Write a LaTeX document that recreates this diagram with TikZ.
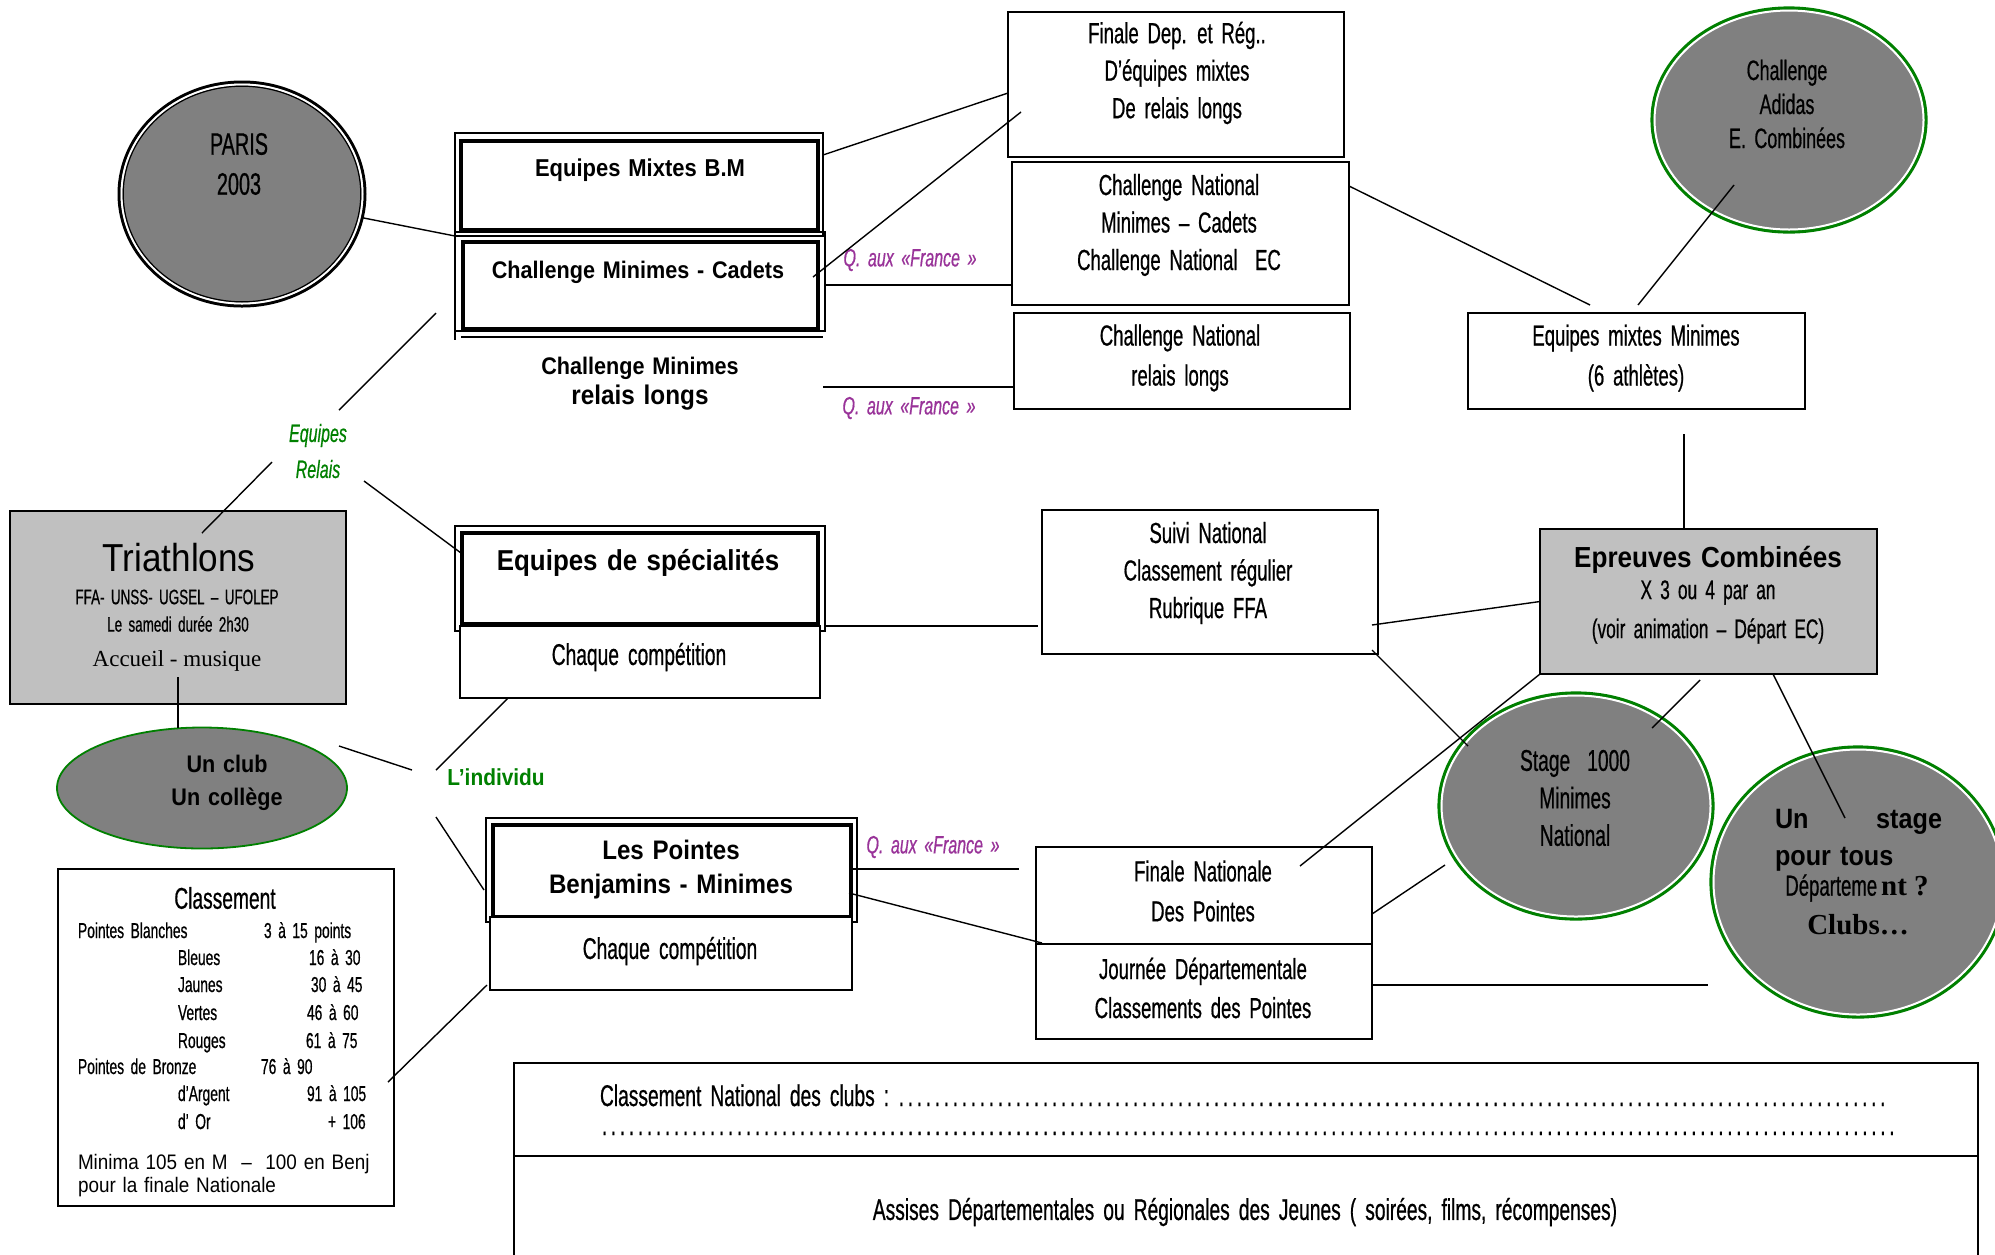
\documentclass[tikz,border=0pt]{standalone}
\usepackage{fontspec}
\setmainfont{Liberation Sans}
\newfontfamily\nar[FakeStretch=0.64,WordSpace=1.7,FakeBold=0.6]{Liberation Sans}
\newfontfamily\bsf[FakeStretch=0.9]{Liberation Sans}
\newfontfamily\midf[FakeStretch=0.9,WordSpace=1.3]{Liberation Sans}
\newfontfamily\serf{Liberation Serif}
\usetikzlibrary{shapes.geometric,fit}
\newcommand{\fsz}[2]{\fontsize{#1}{#2}\selectfont}
\definecolor{dkgrey}{RGB}{128,128,128}
\definecolor{ltgrey}{RGB}{192,192,192}
\definecolor{rgreen}{RGB}{0,128,0}
\definecolor{purp}{RGB}{153,51,153}
\tikzset{
  every node/.style={inner sep=0pt, outer sep=0pt},
  pbox/.style={draw=black, line width=0.9pt, fill=white},
  gbox/.style={draw=black, line width=0.9pt, fill=ltgrey},
  fouter/.style={draw=black, line width=1pt},
  finner/.style={draw=black, line width=1.75pt},
  conn/.style={draw=black, line width=0.7pt},
  gell/.style={ellipse, fill=dkgrey, draw=rgreen, line width=1.6pt},
  nt/.style={align=center, font=\nar\fsz{14.5}{18.75}},
  qlab/.style={font=\nar\itshape\fsz{12.5}{14}, text=purp},
  bt/.style={font=\bsf\bfseries\fsz{12}{14}},
}
\begin{document}
\begin{tikzpicture}[x=0.5pt,y=-0.5pt]
\path[use as bounding box, fill=white] (0,0) rectangle (1995,1254);

% ---------- PARIS ----------
\node[ellipse, fill=dkgrey, draw=black, line width=1.5pt, minimum width=123pt, minimum height=112pt] (paris) at (242,194) {};
\draw[white, line width=1pt] (paris.center) ellipse [x radius=60.25pt, y radius=54.75pt];
\draw[black, line width=0.6pt] (paris.center) ellipse [x radius=59.4pt, y radius=53.9pt];
\node[align=center, font=\nar\fsz{15.5}{20}] (paris-t) at (239,164) {PARIS\\2003};

% ---------- stack ----------
\node[fouter, fit={(455,133) (823,236)}] (f1) {};
\node[finner, fit={(461,141) (818,230)}] (bm) {};
\node[fouter, fit={(455,232) (825,331)}] (f2) {};
\node[finner, fit={(463,242) (818,329)}] (cmc) {};
\draw[line width=1pt] (f2.south west) -- ++(0,9);
\coordinate (sb1) at (461,337);
\coordinate (sb2) at (823,337);
\draw[line width=1pt] (sb1) -- (sb2);
\node[font=\bsf\bfseries\fsz{12.2}{14}] (bm-t) at (640,170) {Equipes Mixtes B.M};
\node[bt] (cmc-t) at (638,272) {Challenge Minimes - Cadets};
\node[bt] (cmrl1) at (640,368) {Challenge Minimes};
\node[font=\bsf\bfseries\fsz{13.5}{16}] (cmrl2) at (640,398) {relais longs};

% ---------- top middle boxes ----------
\node[pbox, fit={(1008,12) (1344,157)}] (fdep) {};
\node[nt] (fdep-t) at (1177,73) {Finale Dep. et Rég..\\D’équipes mixtes\\De relais longs};
\node[pbox, fit={(1012,162) (1349,305)}] (cn) {};
\node[nt] (cn-t) at (1179,225) {Challenge National\\Minimes – Cadets\\Challenge National\ \ EC};
\node[pbox, fit={(1014,313) (1350,409)}] (cnr) {};
\node[nt, font=\nar\fsz{14.5}{20}] (cnr-t) at (1180,358) {Challenge National\\relais longs};

\node[qlab] (q1) at (910,260) {Q. aux «France »};
\node[qlab] (q2) at (909,408) {Q. aux «France »};

% ---------- right top ----------
\node[pbox, fit={(1468,313) (1805,409)}] (mm) {};
\node[nt, font=\nar\fsz{14.5}{20}] (mm-t) at (1636,358) {Equipes mixtes Minimes\\(6 athlètes)};
\node[gell, minimum width=137pt, minimum height=112pt] (adidas) at (1789,120) {};
\draw[white, line width=1pt] (adidas.center) ellipse [x radius=67.25pt, y radius=54.75pt];
\node[align=center, font=\nar\fsz{14}{17}] (adidas-t) at (1787,104) {Challenge\\Adidas\\E.\ Combinées};

% ---------- Epreuves combinees ----------
\node[gbox, fit={(1540,529) (1877,674)}] (ec) {};
\node[font=\bsf\bfseries\fsz{14.5}{16}] (ec-t1) at (1708,560) {Epreuves Combinées};
\node[align=center, font=\nar\fsz{13.5}{19.5}] (ec-t2) at (1708,612) {X 3 ou 4 par an\\(voir animation – Départ EC)};

% ---------- Suivi ----------
\node[pbox, fit={(1042,510) (1378,654)}] (sn) {};
\node[nt] (sn-t) at (1208,573) {Suivi National\\Classement régulier\\Rubrique FFA};

% ---------- Finale nationale / Journee ----------
\node[pbox, fit={(1036,847) (1372,944)}] (fn) {};
\node[nt, font=\nar\fsz{14.5}{20}] (fn-t) at (1203,891) {Finale Nationale\\Des Pointes};
\node[pbox, fit={(1036,944) (1372,1039)}] (jd) {};
\node[nt, font=\nar\fsz{14.5}{19.5}] (jd-t) at (1203,988) {Journée Départementale\\Classements des Pointes};

% ---------- Stage 1000 ----------
\node[gell, minimum width=137pt, minimum height=113pt] (st) at (1576,806) {};
\draw[white, line width=1pt] (st.center) ellipse [x radius=67.25pt, y radius=55.25pt];
\node[align=center, font=\nar\fsz{15}{18.75}] (st-t) at (1575,798) {Stage\kern4pt\ 1000\\Minimes\\National};

% ---------- Un stage pour tous ----------
\node[gell, minimum width=147pt, minimum height=135pt] (us) at (1858,882) {};
\draw[white, line width=1pt] (us.center) ellipse [x radius=72.25pt, y radius=66.25pt];
\node[anchor=base west, font=\bsf\bfseries\fsz{14}{16}] (us1) at (1775,828) {Un};
\node[anchor=base east, font=\bsf\bfseries\fsz{14}{16}] (us2) at (1942,828) {stage};
\node[anchor=base west, font=\bsf\bfseries\fsz{14}{16}] (us3) at (1775,865) {pour tous};
\node (us4) at (1857,888) {{\nar\fsz{14.5}{16}Départeme}\kern2pt{\serf\bfseries\fsz{14.5}{16}nt ?}};
\node[font=\serf\bfseries\fsz{14.5}{16}] (us5) at (1858,925) {Clubs…};

% ---------- Triathlons ----------
\node[gbox, fit={(10,511) (346,704)}] (tri) {};
\node[font=\midf\fsz{19.5}{22}] (tri-t1) at (179,558) {Triathlons};
\node[font=\nar\fsz{10.5}{12}] (tri-t2) at (177,597) {FFA- UNSS- UGSEL – UFOLEP};
\node[font=\nar\fsz{10.5}{12}] (tri-t3) at (178,624) {Le samedi durée 2h30};
\node[font=\serf\fsz{11.5}{13}] (tri-t4) at (177,661) {Accueil - musique};

% ---------- Un club ----------
\node[ellipse, fill=dkgrey, draw=rgreen, line width=0.9pt, minimum width=145pt, minimum height=60.5pt] (uc) at (202,788) {};
\node[align=center, font=\bsf\bfseries\fsz{12}{16.5}] (uc-t) at (227,783) {Un club\\Un collège};

\node[align=center, text=rgreen, font=\nar\itshape\fsz{12.5}{18}] (er) at (318,451) {Equipes\\Relais};
\node[text=rgreen, font=\bsf\bfseries\fsz{11.6}{14}] (ind) at (496,777) {L’individu};

% ---------- Equipes de specialites ----------
\node[fouter, fit={(455,526) (825,631)}] (fs) {};
\node[finner, fit={(462,533) (818,624)}] (fsi) {};
\node[font=\bsf\bfseries\fsz{14.4}{16}] (fs-t) at (638,563) {Equipes de spécialités};
\node[pbox, fit={(460,626) (820,698)}] (ch1) {};
\node[font=\nar\fsz{15}{18}] (ch1-t) at (639,657) {Chaque compétition};

% ---------- Les Pointes ----------
\node[fouter, fit={(486,818) (857,922)}] (fp) {};
\node[finner, fit={(493,825) (851,917)}] (fpi) {};
\node[align=center, font=\bsf\bfseries\fsz{13.4}{17}] (fp-t) at (671,870) {Les Pointes\\Benjamins - Minimes};
\node[pbox, fit={(490,917) (852,990)}] (ch2) {};
\node[font=\nar\fsz{15}{18}] (ch2-t) at (670,951) {Chaque compétition};
\node[qlab] (q3) at (933,847) {Q. aux «France »};

% ---------- Classement ----------
\node[pbox, fit={(58,869) (394,1206)}] (cl) {};
\node[font=\nar\fsz{15}{18}] (cl-t) at (225,898) {Classement};
\foreach \t/\x/\y [count=\i] in {Pointes Blanches/78/938, 3 à 15 points/264/938,
  Bleues/178/965, 16 à 30/309/965, Jaunes/178/992, 30 à 45/311/992,
  Vertes/178/1020, 46 à 60/307/1020, Rouges/178/1048, 61 à 75/306/1048,
  Pointes de Bronze/78/1074, 76 à 90/261/1074, d’Argent/178/1101, 91 à 105/307/1101,
  d’ Or/178/1129, + 106/328/1129}
  \node[anchor=base west, font=\nar\fsz{10.8}{12}] (row\i) at (\x,\y) {\t};
\node[anchor=base west, font=\midf\fsz{10.5}{12}] (min1) at (78,1169) {Minima 105 en M \ – \ 100 en Benj};
\node[anchor=base west, font=\midf\fsz{10.5}{12}] (min2) at (78,1192) {pour la finale Nationale};

% ---------- bottom box ----------
\node[draw=black, line width=0.9pt, fit={(514,1063) (1978,1270)}] (bb) {};
\draw[line width=1.4pt] (bb.north west) -- (bb.north east);
\coordinate (mid1) at (514,1156);
\coordinate (mid2) at (1978,1156);
\draw[line width=1.4pt] (mid1) -- (mid2);
\node[anchor=base west, font=\nar\fsz{15}{18}] (cnc) at (600,1106)
  {\hbox to 643.5pt{Classement National des clubs :\leaders\hbox to 4.5pt{\hss.\hss}\hfill}};
\node[anchor=base west, font=\nar\fsz{15}{18}] (dots2) at (600,1135)
  {\hbox to 648.5pt{\leaders\hbox to 4.5pt{\hss.\hss}\hfill}};
\node[font=\nar\fsz{15}{18}] (assises) at (1245,1212)
  {Assises Départementales ou Régionales des Jeunes ( soirées, films, récompenses)};

% ---------- connectors ----------
\coordinate (a1) at (823,155);  \coordinate (a2) at (1008,93);
\coordinate (b1) at (813,277);  \coordinate (b2) at (1021,112);
\coordinate (c1) at (825,285);  \coordinate (c2) at (1012,285);
\coordinate (d1) at (823,387);  \coordinate (d2) at (1014,387);
\coordinate (e1) at (1349,186); \coordinate (e2) at (1590,305);
\coordinate (g1) at (1734,185); \coordinate (g2) at (1638,305);
\coordinate (h1) at (1684,434);
\coordinate (i1) at (1372,625);
\coordinate (j1) at (1372,650); \coordinate (j2) at (1468,746);
\coordinate (k2) at (1300,866);
\coordinate (l1) at (1700,680); \coordinate (l2) at (1652,728);
\coordinate (m1) at (1773,674); \coordinate (m2) at (1845,818);
\coordinate (n1) at (1372,914); \coordinate (n2) at (1445,865);
\coordinate (o1) at (1372,985); \coordinate (o2) at (1708,985);
\coordinate (p1) at (825,626);  \coordinate (p2) at (1038,626);
\coordinate (r1) at (436,313);  \coordinate (r2) at (339,410);
\coordinate (s1) at (202,533);  \coordinate (s2) at (272,462);
\coordinate (t1) at (364,481);  \coordinate (t2) at (461,553);
\coordinate (u1) at (178,677);
\coordinate (v1) at (339,746);  \coordinate (v2) at (412,770);
\coordinate (w1) at (436,770);  \coordinate (w2) at (508,698);
\coordinate (x1) at (436,817);  \coordinate (x2) at (484,890);
\coordinate (y1) at (849,869);  \coordinate (y2) at (1019,869);
\coordinate (z1) at (849,893);  \coordinate (z2) at (1042,943);
\coordinate (zz1) at (487,985); \coordinate (zz2) at (388,1082);

\draw[conn] (paris) -- (f1.south west);
\draw[conn] (a1) -- (a2);
\draw[conn] (b1) -- (b2);
\draw[conn] (c1) -- (c2);
\draw[conn] (d1) -- (d2);
\draw[conn] (e1) -- (e2);
\draw[conn] (g1) -- (g2);
\draw[conn] (h1) -- (h1 |- ec.north);
\draw[conn] (i1) -- (ec.west);
\draw[conn] (j1) -- (j2);
\draw[conn] (ec.south west) -- (k2);
\draw[conn] (l1) -- (l2);
\draw[conn] (m1) -- (m2);
\draw[conn] (n1) -- (n2);
\draw[conn] (o1) -- (o2);
\draw[conn] (p1) -- (p2);
\draw[conn] (r1) -- (r2);
\draw[conn] (s1) -- (s2);
\draw[conn] (t1) -- (t2);
\draw[conn] (u1) -- (u1 |- uc.north);
\draw[conn] (v1) -- (v2);
\draw[conn] (w1) -- (w2);
\draw[conn] (x1) -- (x2);
\draw[conn] (y1) -- (y2);
\draw[conn] (z1) -- (z2);
\draw[conn] (zz1) -- (zz2);
\end{tikzpicture}
\end{document}
